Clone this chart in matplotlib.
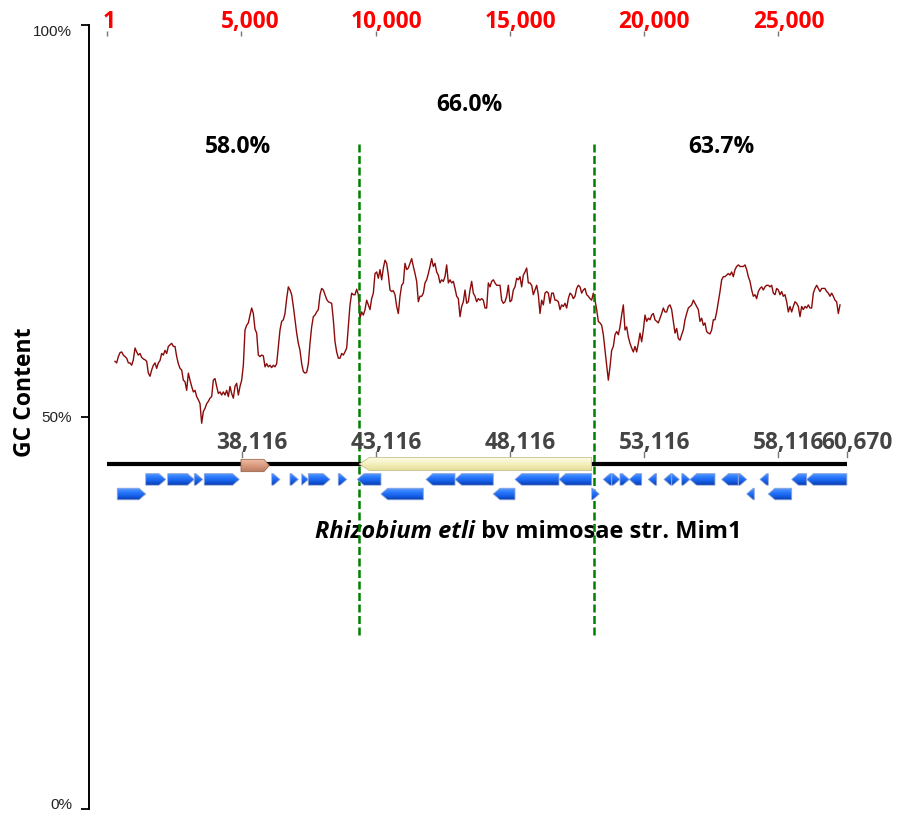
import numpy as np
import matplotlib
matplotlib.use("Agg")
import matplotlib.pyplot as plt
from matplotlib import font_manager as fm
from matplotlib.patches import Polygon
from matplotlib.colors import LinearSegmentedColormap
from matplotlib.transforms import ScaledTranslation


def _weight(w):
    if isinstance(w, (int, float)):
        return int(w)
    return fm.weight_dict.get(str(w).lower(), 400)


def pick_family(cands, min_weight=650, style=None):
    for fam in cands:
        for f in fm.fontManager.ttflist:
            if f.name == fam and _weight(f.weight) >= min_weight and \
                    (style is None or f.style == style):
                return fam
    return 'DejaVu Sans'


BOLD_FAMILY = pick_family(['Open Sans', 'Noto Sans', 'Lato', 'Roboto', 'Inter'])
ITALIC_FAMILY = pick_family([BOLD_FAMILY, 'Open Sans', 'Noto Sans', 'Lato', 'Roboto'],
                            style='italic')
NARROW_FAMILY = pick_family(['Liberation Sans Narrow', 'DejaVu Sans Condensed',
                             'Liberation Sans'], min_weight=0)

plt.rcParams['font.family'] = [BOLD_FAMILY, 'DejaVu Sans']

# ---------------- data ----------------
seq_length = 27555          # length of the displayed segment (bp)
genome_offset = 33115       # segment position 1 == genome position 33,116

top_ticks = [1, 5000, 10000, 15000, 20000, 25000]
top_labels = ['1', '5,000', '10,000', '15,000', '20,000', '25,000']
track_ticks = [5001, 10001, 15001, 20001, 25001, 27555]
track_labels = ['38,116', '43,116', '48,116', '53,116', '58,116', '60,670']

segment_bounds = [9389, 18144]
segment_gc_labels = ['58.0%', '66.0%', '63.7%']

# sliding-window GC content (%), windows evenly spaced along the segment
gc_window_first = 288
gc_window_last = 27299
gc_percent = [
    57.1, 56.9, 57.7, 58.2, 58.3, 57.9, 57.7, 57.5, 56.9, 56.9,
    56.6, 57.3, 58.8, 58.3, 57.9, 58.1, 57.6, 57.4, 57.3, 57.1,
    55.6, 55.2, 56.0, 56.6, 56.9, 56.2, 56.9, 57.2, 58.1, 57.9,
    58.5, 58.1, 59.0, 59.2, 59.4, 59.0, 59.0, 57.7, 56.8, 56.2,
    56.0, 54.7, 54.5, 53.4, 55.6, 54.7, 53.9, 53.2, 53.4, 52.6,
    52.2, 51.7, 49.2, 50.7, 51.1, 51.7, 52.0, 52.4, 52.6, 54.7,
    54.9, 53.9, 53.0, 53.2, 52.8, 53.2, 52.8, 53.4, 52.6, 53.9,
    53.0, 52.4, 53.9, 54.3, 52.8, 53.9, 54.7, 56.6, 61.1, 61.7,
    62.0, 63.0, 63.9, 63.2, 61.2, 60.7, 57.9, 57.7, 57.9, 57.8,
    56.4, 56.8, 56.4, 56.6, 56.3, 56.6, 56.4, 56.8, 59.0, 61.1,
    62.2, 62.4, 63.2, 65.1, 66.6, 66.2, 65.6, 64.1, 62.4, 60.7,
    59.4, 58.5, 56.8, 55.8, 55.6, 55.7, 56.8, 59.4, 61.5, 62.8,
    63.0, 63.4, 63.7, 65.6, 66.4, 66.2, 65.6, 65.0, 64.7, 64.6,
    64.5, 62.4, 59.6, 58.3, 57.5, 57.5, 58.1, 57.9, 58.3, 58.8,
    61.5, 64.3, 65.8, 65.6, 65.6, 66.3, 65.6, 62.6, 63.4, 63.0,
    63.7, 64.9, 64.3, 63.7, 65.1, 65.8, 68.3, 68.5, 67.7, 68.8,
    67.5, 69.0, 70.0, 69.6, 68.1, 66.2, 66.0, 66.1, 65.6, 64.1,
    63.2, 65.4, 66.8, 67.1, 69.6, 68.8, 69.0, 69.6, 70.2, 69.2,
    68.3, 67.3, 64.7, 65.4, 65.4, 65.8, 67.1, 67.5, 68.3, 69.2,
    70.2, 69.2, 69.6, 68.5, 68.1, 67.1, 67.5, 67.3, 67.9, 69.4,
    67.1, 67.5, 67.1, 67.3, 66.4, 65.4, 65.1, 62.8, 64.1, 64.7,
    66.2, 64.5, 64.7, 66.2, 67.3, 65.8, 65.4, 64.7, 65.1, 64.9,
    65.1, 64.9, 63.9, 63.9, 67.1, 66.6, 67.3, 67.5, 67.1, 66.8,
    66.8, 66.8,
    64.9, 64.5, 64.7, 65.4, 66.8, 64.7, 64.9, 66.2, 66.6, 67.7,
    67.5, 67.9, 66.6, 68.1, 68.5, 69.0, 67.1, 67.1, 66.8, 65.6,
    66.2, 66.8, 65.6, 63.2, 64.9, 64.3, 65.8, 66.0, 65.8, 64.5,
    65.8, 65.8, 64.9, 64.9, 64.7, 63.7, 64.3, 64.1, 64.5, 63.9,
    65.1, 65.8, 65.6, 65.1, 65.4, 66.4, 66.8, 66.6, 65.8, 66.2,
    66.4, 65.6, 65.4, 65.1, 64.9, 65.8, 64.9, 63.7, 62.2, 62.0,
    61.7, 60.5, 58.5, 56.6, 54.7, 56.4, 58.5, 59.0, 60.5, 60.9,
    60.5, 61.5, 63.0, 64.3, 61.1, 61.5, 60.2, 59.4, 58.8, 58.3,
    59.0, 58.3, 59.4, 60.7, 59.6, 61.1, 63.0, 62.2, 62.6, 62.4,
    63.0, 63.2, 62.4, 62.2, 62.0, 62.6, 63.2, 63.9, 63.4, 63.4,
    64.1, 64.3, 63.7, 62.2, 60.7, 61.3, 60.0, 59.8, 60.5, 61.1,
    62.4, 63.2, 63.9, 64.1, 64.3, 64.9, 64.5, 64.1, 63.7, 62.2,
    62.6, 61.7, 62.0, 60.9, 60.7, 60.6, 61.1, 62.4, 62.4, 63.4,
    64.7, 66.0, 67.5, 67.9, 67.9, 68.1, 68.3, 68.1, 68.5, 67.9,
    68.8, 69.2, 69.4, 69.2, 69.2, 69.2, 69.4, 68.8, 67.9, 67.3,
    66.2, 65.4, 65.6, 65.1, 66.0, 66.4, 66.6, 66.2, 66.6, 66.8,
    66.8, 66.6, 66.8, 65.8, 65.6, 66.4, 66.2, 65.6, 66.0, 65.4,
    65.6, 64.7, 63.4, 64.1, 63.4, 64.1, 64.7, 64.5, 64.1, 62.8,
    64.1, 63.7, 64.1, 63.9, 64.3, 63.9, 63.9, 65.8, 66.4, 66.8,
    66.4, 66.0, 66.4, 66.4, 66.4, 66.0, 65.8, 65.4, 65.8, 65.4,
    64.9, 64.7, 63.2, 64.3,
]

# annotated CDS features (segment coordinates), strand and display row
gene_start = [1431, 2250, 3241, 3614, 6125, 6807, 7243, 7489, 8606, 9314,
              11874, 12955, 15190, 16829, 18479, 18793, 19101, 19448, 20157, 20741,
              21028, 21400, 21710, 22891, 23509, 24318, 25499, 26058,
              373, 10197, 14381, 18047, 23822, 24627]
gene_end = [2176, 3241, 3554, 4918, 6434, 7116, 7489, 8297, 8919, 10197,
            12955, 14381, 16829, 18047, 18793, 19101, 19448, 19910, 20469, 21028,
            21311, 21710, 22641, 23509, 23824, 24627, 26058, 27555,
            1431, 11774, 15190, 18330, 24105, 25499]
gene_strand = [1, 1, 1, 1, 1, 1, 1, 1, 1, -1,
               -1, -1, -1, -1, -1, 1, 1, -1, -1, -1,
               1, 1, -1, -1, 1, -1, -1, -1,
               1, -1, -1, 1, -1, -1]
gene_row = [1] * 28 + [2] * 6

# other features sitting on the backbone: (start, end, strand)
repeat_feature = (4981, 6036, 1)
island_feature = (9389, 18047, -1)

title_italic = 'Rhizobium etli'
title_rest = ' bv mimosae str. Mim1'

# ---------------- figure ----------------
W, H = 899, 814
fig = plt.figure(figsize=(W / 100, H / 100), dpi=100)

x_left, x_right = -681, 28417
ax = fig.add_axes([89 / W, 5 / H, 781 / W, 784 / H])
ax.set_xlim(x_left, x_right)
ax.set_ylim(0, 100)
for s in ('top', 'right', 'bottom'):
    ax.spines[s].set_visible(False)
ax.spines['left'].set_linewidth(1.4)
ax.set_xticks([])
ax.set_yticks([0, 50, 100])
ax.set_yticklabels(['0%', '50%', '100%'])
ax.tick_params(axis='y', direction='out', length=5.8, width=1.3, pad=6.5,
               labelsize=11, labelcolor='#222222')
ylabs = ax.get_yticklabels()
for lab in ylabs:
    lab.set_fontfamily([NARROW_FAMILY, 'DejaVu Sans'])
ylabs[0].set_va('baseline')
ylabs[2].set_va('top')

# GC content curve
gc_pos = np.linspace(gc_window_first, gc_window_last, len(gc_percent))
ax.plot(gc_pos, gc_percent, color='#8b0a0a', lw=1.0, zorder=3)

# segment boundaries
xa = ax.get_xaxis_transform()
ax.vlines(segment_bounds, 0.222, 0.851, transform=xa, colors='#008000',
          linewidth=1.8, linestyles=(0, (3.2, 1.4)), zorder=6)

# per-segment GC labels
seg_x = [4870, 13476, 22866]
seg_y = [0.8444, 0.898, 0.8444]
for x, y, lab in zip(seg_x, seg_y, segment_gc_labels):
    ax.text(x, y, lab, transform=xa, ha='center', va='center',
            fontsize=16.5, fontweight='bold', color='black')

# top ruler
shifted = []
for t, lab in zip(top_ticks, top_labels):
    ax.plot([t, t], [0.986, 0.9927], transform=xa, color='#777777', lw=1.0,
            clip_on=False, solid_capstyle='butt')
    shifted.append(ax.text(t, 0.9958, lab, transform=xa, ha='center',
                           va='baseline', fontsize=16.3, fontweight='bold',
                           color='#ff0000'))

# ---------------- feature track ----------------
trk = fig.add_axes([89 / W, 305 / H, 781 / W, 60 / H], sharex=ax)
trk.set_axis_off()
trk.set_ylim(-3, 1)


def arrow_xy(start, end, strand, y, h, head):
    head = min(head, end - start)
    if strand > 0:
        return [(start, y - h / 2), (end - head, y - h / 2), (end, y),
                (end - head, y + h / 2), (start, y + h / 2)]
    return [(end, y - h / 2), (start + head, y - h / 2), (start, y),
            (start + head, y + h / 2), (end, y + h / 2)]


def shaded_arrow(axis, xy, colors, edge, z):
    cmap = LinearSegmentedColormap.from_list('shade', colors)
    poly = Polygon(xy, closed=True, facecolor='none', edgecolor=edge,
                   linewidth=0.6, zorder=z + 0.1)
    axis.add_patch(poly)
    xs = [p[0] for p in xy]
    ys = [p[1] for p in xy]
    grad = np.linspace(0, 1, 32).reshape(-1, 1)
    im = axis.imshow(grad, cmap=cmap, origin='lower', aspect='auto',
                     extent=(min(xs), max(xs), min(ys), max(ys)),
                     interpolation='bilinear', zorder=z)
    im.set_clip_path(poly)


# backbone
trk.plot([1, seq_length], [0, 0], color='black', lw=3.0,
         solid_capstyle='butt', zorder=2)

# track ruler
for t, lab in zip(track_ticks, track_labels):
    trk.plot([t, t], [0.47, 0.82], color='#777777', lw=1.0, zorder=2)
    shifted.append(trk.text(t, 0.98, lab, ha='center', va='baseline',
                            fontsize=16.3, fontweight='bold',
                            color='#444444'))

blue = ['#0a3cb0', '#1560e6', '#2b79ff', '#5a9cff']
row_y = {1: -1.03, 2: -2.0}
for s, e, st, r in zip(gene_start, gene_end, gene_strand, gene_row):
    shaded_arrow(trk, arrow_xy(s, e, st, row_y[r], 0.77, 250), blue,
                 '#8aa2d8', 4)

s, e, st = repeat_feature
shaded_arrow(trk, arrow_xy(s, e, st, -0.1, 0.82, 200),
             ['#b97a5e', '#d99c80', '#eebca4'], '#9c6a52', 4)
s, e, st = island_feature
shaded_arrow(trk, arrow_xy(s, e, st, 0.0, 0.87, 380),
             ['#e2dc98', '#f4efbc', '#fffdea'], '#c9c38e', 4)

trk.set_xlim(x_left, x_right)
trk.set_ylim(-3, 1)

# organism name
t1 = ax.text(7738, 0.3453, title_italic, transform=xa, ha='left',
             va='baseline', fontsize=17, fontweight='bold', style='italic',
             fontfamily=[ITALIC_FAMILY, 'DejaVu Sans'])
ax.annotate(title_rest, xy=(1, 0), xycoords=t1, ha='left', va='bottom',
            fontsize=17, fontweight='bold')

fig.text(25 / W, 1 - 392 / H, 'GC Content', rotation=90, ha='center',
         va='center', fontsize=16.5, fontweight='bold')

# ruler labels sit slightly right of their tick
fig.canvas.draw()
rend = fig.canvas.get_renderer()
for t in shifted:
    w = t.get_window_extent(rend).width
    t.set_transform(t.get_transform() +
                    ScaledTranslation(0.144 * w / fig.dpi, 0, fig.dpi_scale_trans))

fig.savefig('out.png', dpi=100)
